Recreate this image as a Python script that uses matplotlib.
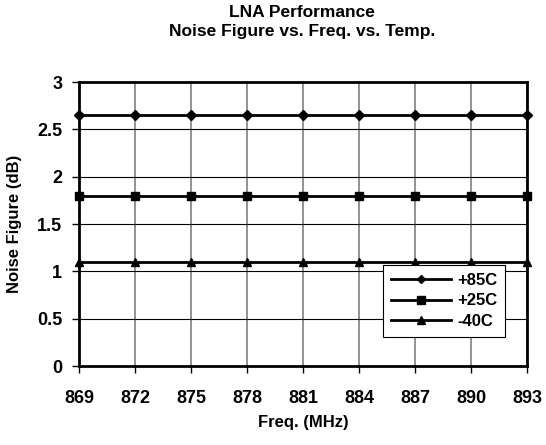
import matplotlib
matplotlib.use("Agg")
import matplotlib.pyplot as plt

plt.rcParams["font.family"] = ["Liberation Sans", "DejaVu Sans"]
plt.rcParams["font.weight"] = "bold"

freq = [869, 872, 875, 878, 881, 884, 887, 890, 893]
nf_85c = [2.65, 2.65, 2.65, 2.65, 2.65, 2.65, 2.65, 2.65, 2.65]
nf_25c = [1.8, 1.8, 1.8, 1.8, 1.8, 1.8, 1.8, 1.8, 1.8]
nf_m40c = [1.1, 1.1, 1.1, 1.1, 1.1, 1.1, 1.1, 1.1, 1.1]
y_ticks = [0, 0.5, 1, 1.5, 2, 2.5, 3]
y_labels = ["0", "0.5", "1", "1.5", "2", "2.5", "3"]

fig = plt.figure(figsize=(5.46, 4.45), dpi=100)
ax = fig.add_axes([0.1447, 0.1775, 0.8205, 0.6382])

ax.plot(freq, nf_85c, color="black", lw=2, marker="D", ms=5, label="+85C", clip_on=False, zorder=3)
ax.plot(freq, nf_25c, color="black", lw=2, marker="s", ms=6, label="+25C", clip_on=False, zorder=3)
ax.plot(freq, nf_m40c, color="black", lw=2, marker="^", ms=6, label="-40C", clip_on=False, zorder=3)

ax.set_xlim(869, 893)
ax.set_ylim(0, 3)
ax.set_xticks(freq)
ax.set_xticklabels([str(f) for f in freq])
ax.set_yticks(y_ticks)
ax.set_yticklabels(y_labels)
ax.tick_params(direction="out", length=5, width=1, labelsize=13, pad=12)
ax.tick_params(axis="y", pad=7)

for x in freq:
    ax.axvline(x, color="#808080", lw=1.2, zorder=1)
for y in y_ticks:
    ax.axhline(y, color="black", lw=0.8, zorder=1)

for s in ax.spines.values():
    s.set_linewidth(2)
    s.set_zorder(2)

ax.set_xlabel("Freq. (MHz)", fontsize=12, fontweight="bold", labelpad=6)
ax.set_ylabel("Noise Figure (dB)", fontsize=12, fontweight="bold", labelpad=11)
fig.text(0.553, 0.988, "LNA Performance\nNoise Figure vs. Freq. vs. Temp.",
         ha="center", va="top", fontsize=12.5, fontweight="bold", linespacing=1.3)

leg = ax.legend(loc="lower right", bbox_to_anchor=(0.9695, 0.0735), fontsize=12,
                frameon=True, fancybox=False, framealpha=1, edgecolor="black",
                markerscale=0.85, handlelength=3.6, handletextpad=0.4,
                labelspacing=0.35, borderpad=0.45)
leg.get_frame().set_linewidth(0.8)

fig.savefig("out.png", dpi=100)
